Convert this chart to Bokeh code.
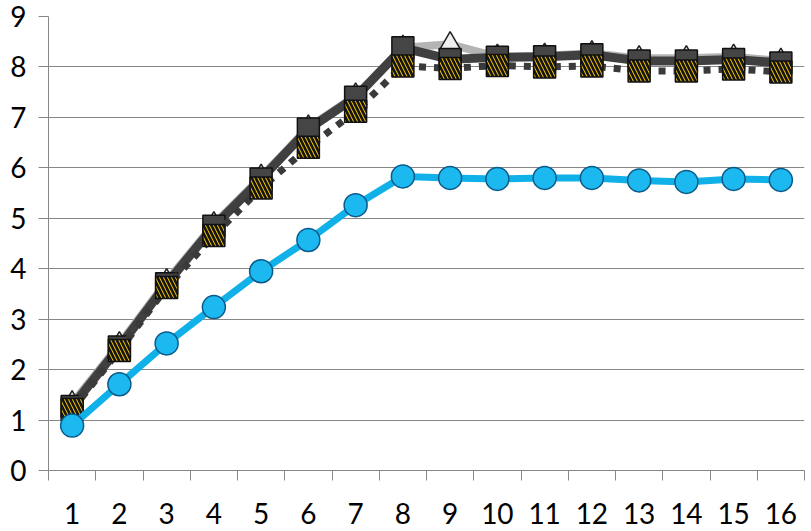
from bokeh.plotting import figure
from bokeh.models import FixedTicker, Range1d
from bokeh.embed import file_html
from bokeh.resources import INLINE

x = list(range(1, 17))
x_labels = [str(i) for i in x]
y_ticks = list(range(0, 10))

light = [1.33, 2.5, 3.75, 4.88, 5.82, 6.8, 7.43, 8.38, 8.45, 8.2, 8.22, 8.27, 8.17, 8.17, 8.2, 8.12]
dark = [1.27, 2.45, 3.7, 4.84, 5.78, 6.77, 7.4, 8.38, 8.15, 8.19, 8.2, 8.24, 8.12, 8.12, 8.15, 8.08]
hatched = [1.21, 2.38, 3.63, 4.66, 5.6, 6.41, 7.12, 8.02, 7.97, 8.03, 8.0, 8.02, 7.92, 7.92, 7.96, 7.9]
cyan = [0.89, 1.71, 2.52, 3.24, 3.95, 4.57, 5.26, 5.83, 5.8, 5.78, 5.8, 5.8, 5.75, 5.72, 5.78, 5.76]

FONT = "Lato"
p = figure(width=811, height=531, output_backend="svg", toolbar_location=None,
           x_range=Range1d(0.5, 16.5), y_range=Range1d(0, 9),
           min_border_left=48, min_border_right=7, min_border_top=16, min_border_bottom=61)
p.outline_line_color = None
p.background_fill_color = "white"
p.border_fill_color = "white"

p.xgrid.grid_line_color = None
p.ygrid.ticker = FixedTicker(ticks=y_ticks)
p.ygrid.grid_line_color = "#878787"
p.ygrid.grid_line_width = 1

xa = p.xaxis[0]
xa.ticker = FixedTicker(ticks=x, minor_ticks=[i + 0.5 for i in range(0, 17)])
xa.major_label_overrides = {i: s for i, s in zip(x, x_labels)}
xa.major_tick_out = 0
xa.major_tick_in = 0
xa.minor_tick_out = 10
xa.minor_tick_in = 0
xa.minor_tick_line_color = "#878787"
xa.axis_line_color = "#878787"
xa.major_label_standoff = 22
xa.major_label_text_font = FONT
xa.major_label_text_font_size = "28px"
xa.major_label_text_color = "black"

ya = p.yaxis[0]
ya.ticker = FixedTicker(ticks=y_ticks)
ya.major_tick_out = 10
ya.major_tick_in = 0
ya.minor_tick_line_color = None
ya.major_tick_line_color = "#878787"
ya.axis_line_color = "#878787"
ya.major_label_standoff = 12
ya.major_label_text_font = FONT
ya.major_label_text_font_size = "28px"
ya.major_label_text_color = "black"

# light gray series
p.line(x, light, line_color="#b4b4b4", line_width=8)
p.scatter(x, light, marker="triangle", size=22, fill_color="#f0f0f0", line_color="#202020", line_width=1.5)

# dark gray series
p.line(x, dark, line_color="#404040", line_width=9)
p.scatter(x, dark, marker="square", size=22, fill_color="#454545", line_color="#111111", line_width=1.5)

# dotted series with hatched squares
p.line(x, hatched, line_color="#3a3a3a", line_width=7, line_dash="7 8")
p.scatter(x, hatched, marker="square", size=22, fill_color="#f2c200", line_color="#111111", line_width=1.5,
          hatch_pattern="left_diagonal_line", hatch_color="#141414", hatch_weight=2.6, hatch_scale=8)

# cyan series
p.line(x, cyan, line_color="#10b0e8", line_width=7)
p.scatter(x, cyan, marker="circle", size=23, fill_color="#1cb8f0", line_color="#0a5a8a", line_width=1.5)

open("out.html", "w").write(file_html(p, INLINE))
